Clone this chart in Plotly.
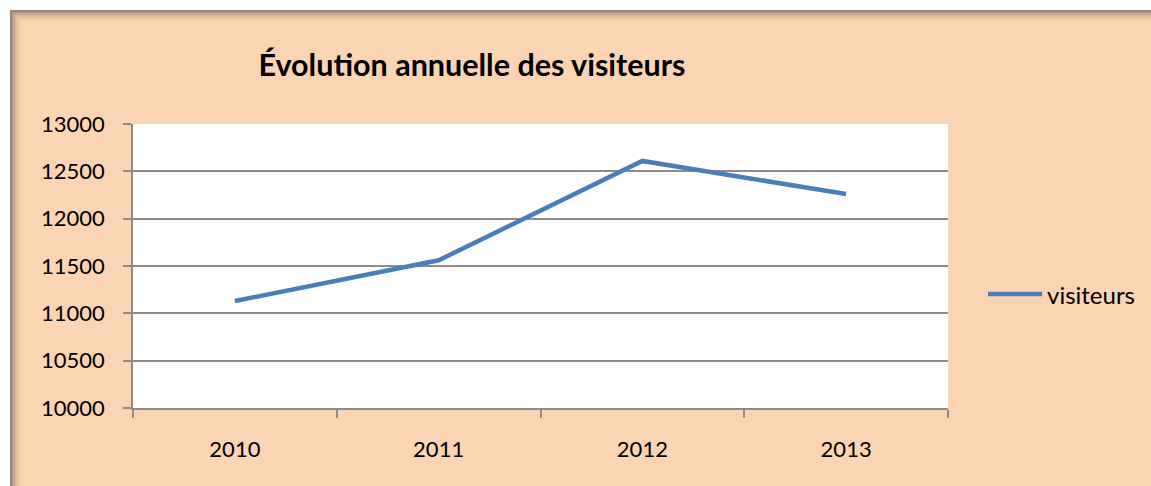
import plotly.graph_objects as go

years = ["2010", "2011", "2012", "2013"]
visiteurs = [11130, 11560, 12610, 12260]
y_ticks = [10000, 10500, 11000, 11500, 12000, 12500, 13000]
series_name = "visiteurs"
title_text = "Évolution annuelle des visiteurs"

# body margin is removed below, so figure covers the full 1151x486 window
W, H = 1151, 486
L, R, T, B = 133, 203, 124, 78
PW, PH = W - L - R, H - T - B

def px_x(px):
    return (px - L) / PW

def px_y(py):
    return (H - B - py) / PH

PEACH = "#FBD4B4"
GRID = "#8C8C8C"
BLUE = "#4A7EBB"
FONT = "Lato, 'Open Sans', sans-serif"

fig = go.Figure()
fig.add_trace(go.Scatter(
    x=years, y=visiteurs, mode="lines", name=series_name,
    line=dict(color=BLUE, width=4.5), showlegend=False,
))

shapes = []
# white strips outside frame (top and left)
shapes.append(dict(type="rect", xref="paper", yref="paper", layer="below",
                   x0=px_x(-20), x1=px_x(10), y0=px_y(-20), y1=px_y(600),
                   fillcolor="white", line=dict(width=0)))
shapes.append(dict(type="rect", xref="paper", yref="paper", layer="below",
                   x0=px_x(-20), x1=px_x(1300), y0=px_y(-20), y1=px_y(10),
                   fillcolor="white", line=dict(width=0)))
# gray frame edges
shapes.append(dict(type="line", xref="paper", yref="paper", layer="below",
                   x0=px_x(10), x1=px_x(1300), y0=px_y(11), y1=px_y(11),
                   line=dict(color="#8A8A8A", width=2)))
shapes.append(dict(type="line", xref="paper", yref="paper", layer="below",
                   x0=px_x(11), x1=px_x(11), y0=px_y(10), y1=px_y(600),
                   line=dict(color="#8A8A8A", width=2)))
# inner shadow gradient along top and left edges
for i, a in enumerate([0.45, 0.32, 0.22, 0.14, 0.08, 0.04]):
    off = 12.8 + i * 1.5
    shapes.append(dict(type="line", xref="paper", yref="paper", layer="below",
                       x0=px_x(off), x1=px_x(1300), y0=px_y(off), y1=px_y(off),
                       line=dict(color=f"rgba(110,80,60,{a})", width=1.6)))
    shapes.append(dict(type="line", xref="paper", yref="paper", layer="below",
                       x0=px_x(off), x1=px_x(off), y0=px_y(off), y1=px_y(600),
                       line=dict(color=f"rgba(110,80,60,{a})", width=1.6)))
# legend key
shapes.append(dict(type="line", xref="paper", yref="paper",
                   x0=px_x(988), x1=px_x(1042), y0=px_y(294), y1=px_y(294),
                   line=dict(color=BLUE, width=4.5)))

annotations = [dict(text=series_name, xref="paper", yref="paper",
                    x=px_x(1045), y=px_y(294), xanchor="left", yanchor="middle",
                    showarrow=False, font=dict(family=FONT, size=24, color="#000000"))]

fig.update_layout(
    width=W, height=H,
    margin=dict(l=L, r=R, t=T, b=B, autoexpand=False),
    paper_bgcolor=PEACH,
    plot_bgcolor="white",
    font=dict(family=FONT, size=22, color="#000000"),
    title=dict(text=f"<b>{title_text}</b>", x=px_x(472), xref="paper", xanchor="center",
               y=1 - 65 / H, yref="container", yanchor="middle",
               font=dict(family=FONT, size=30.5, color="#000000")),
    shapes=shapes,
    annotations=annotations,
    showlegend=False,
    xaxis=dict(type="category", range=[-0.5, 3.5], tickson="boundaries",
               showgrid=False, showline=True, linecolor=GRID, linewidth=1.5,
               ticks="outside", ticklen=8, tickcolor=GRID, tickwidth=1.5,
               ticklabelstandoff=21, tickfont=dict(size=22)),
    yaxis=dict(range=[10000, 13000], tickvals=y_ticks, ticktext=[str(v) for v in y_ticks],
               showgrid=True, gridcolor=GRID, gridwidth=1.5, zeroline=False,
               showline=True, linecolor=GRID, linewidth=1.5,
               ticks="outside", ticklen=8, tickcolor=GRID, tickwidth=1.5,
               ticklabelstandoff=14, tickfont=dict(size=22)),
)

fig.write_html("out.html",
               config={"displayModeBar": False},
               post_script="document.body.style.margin='0';document.body.style.overflow='hidden';")
